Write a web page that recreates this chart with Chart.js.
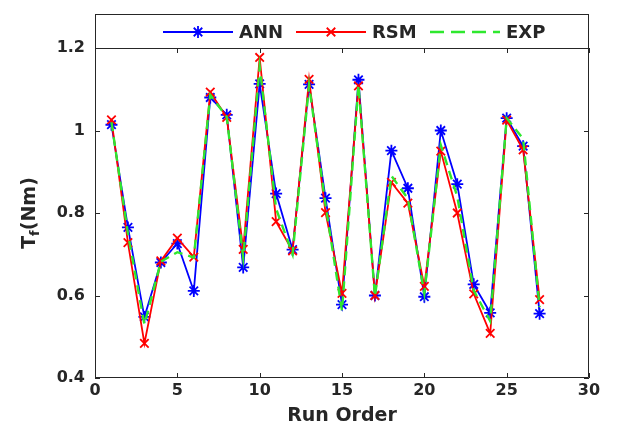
<!DOCTYPE html>
<html>
<head>
<meta charset="utf-8">
<script src="https://cdn.jsdelivr.net/npm/chart.js@4.4.1/dist/chart.umd.min.js"></script>
<style>
  html, body { margin: 0; padding: 0; background: #fff; }
  #wrap { width: 630px; height: 435px; }
</style>
</head>
<body>
<div id="wrap"><canvas id="chart" width="630" height="435"></canvas></div>
<script>
// run order 1..27
const runOrder = [1, 2, 3, 4, 5, 6, 7, 8, 9, 10, 11, 12, 13, 14, 15, 16, 17, 18, 19, 20, 21, 22, 23, 24, 25, 26, 27];

// friction torque Tf (Nm)
const annValues = [1.014, 0.765, 0.548, 0.680, 0.726, 0.611, 1.080, 1.038, 0.668, 1.113, 0.847, 0.711, 1.112, 0.836, 0.578,
                   1.123, 0.600, 0.951, 0.860, 0.597, 1.000, 0.870, 0.627, 0.558, 1.030, 0.962, 0.556];
const rsmValues = [1.026, 0.728, 0.484, 0.684, 0.739, 0.693, 1.093, 1.032, 0.712, 1.177, 0.779, 0.708, 1.124, 0.801, 0.605,
                   1.108, 0.600, 0.874, 0.824, 0.622, 0.950, 0.800, 0.604, 0.508, 1.025, 0.953, 0.590];
const expValues = [1.020, 0.750, 0.530, 0.682, 0.705, 0.692, 1.086, 1.033, 0.692, 1.155, 0.810, 0.700, 1.110, 0.820, 0.563,
                   1.110, 0.598, 0.890, 0.835, 0.605, 0.965, 0.840, 0.612, 0.538, 1.030, 0.980, 0.572];

const xTicks = [0, 5, 10, 15, 20, 25, 30];
const yTicks = [0.4, 0.6, 0.8, 1.0, 1.2];

const INK = '#262626';
const FONT = "'DejaVu Sans', 'Liberation Sans', Arial, sans-serif";
const BLUE = '#0000ff', RED = '#ff0000', GREEN = '#2ee82e';

const pts = vals => runOrder.map((r, i) => ({ x: r, y: vals[i] }));

// box, inward ticks, y label with subscript, and the legend strip on top
const framePlugin = {
  id: 'frame',
  afterDraw(chart) {
    const { ctx, chartArea: a, scales: { x, y } } = chart;
    ctx.save();
    ctx.strokeStyle = INK;
    ctx.lineWidth = 1;
    ctx.setLineDash([]);
    ctx.beginPath();
    ctx.rect(a.left + 0.5, a.top + 0.5, a.right - a.left - 1, a.bottom - a.top - 1);
    xTicks.forEach(v => {
      const px = Math.round(x.getPixelForValue(v)) + 0.5;
      ctx.moveTo(px, a.bottom); ctx.lineTo(px, a.bottom - 5);
      ctx.moveTo(px, a.top); ctx.lineTo(px, a.top + 5);
    });
    yTicks.forEach(v => {
      const py = Math.round(y.getPixelForValue(v)) + 0.5;
      ctx.moveTo(a.left, py); ctx.lineTo(a.left + 5, py);
      ctx.moveTo(a.right, py); ctx.lineTo(a.right - 5, py);
    });
    ctx.stroke();

    // y axis title: T_f(Nm)
    ctx.save();
    ctx.translate(30, (a.top + a.bottom) / 2);
    ctx.rotate(-Math.PI / 2);
    ctx.fillStyle = INK;
    ctx.textBaseline = 'middle';
    const big = 'bold 19px ' + FONT, small = 'bold 13px ' + FONT;
    ctx.font = big; const wT = ctx.measureText('T').width, wR = ctx.measureText('(Nm)').width;
    ctx.font = small; const wF = ctx.measureText('f').width;
    let sx = -(wT + wF + wR) / 2;
    ctx.font = big; ctx.fillText('T', sx, 0); sx += wT;
    ctx.font = small; ctx.fillText('f', sx, 6); sx += wF;
    ctx.font = big; ctx.fillText('(Nm)', sx, 0);
    ctx.restore();

    // legend box
    const top = 14, cy = 32;
    ctx.strokeStyle = INK;
    ctx.strokeRect(a.left + 0.5, top + 0.5, a.right - a.left - 1, a.top - top);
    const items = [
      { label: 'ANN', color: BLUE, x0: 163, style: 'star', dash: [], width: 1.8 },
      { label: 'RSM', color: RED, x0: 296, style: 'crossRot', dash: [], width: 1.8 },
      { label: 'EXP', color: GREEN, x0: 430, style: false, dash: [14, 7], width: 2.4 }
    ];
    items.forEach(it => {
      ctx.save();
      ctx.strokeStyle = it.color;
      ctx.lineWidth = it.width;
      ctx.setLineDash(it.dash);
      ctx.beginPath();
      ctx.moveTo(it.x0, cy); ctx.lineTo(it.x0 + 70, cy);
      ctx.stroke();
      ctx.setLineDash([]);
      if (it.style) {
        ctx.lineWidth = 1.8;
        Chart.helpers.drawPoint(ctx, { pointStyle: it.style, rotation: 0, radius: 6, borderWidth: 1.8 }, it.x0 + 35, cy);
      }
      ctx.fillStyle = INK;
      ctx.font = 'bold 18px ' + FONT;
      ctx.textBaseline = 'middle';
      ctx.fillText(it.label, it.x0 + 76, cy + 1);
      ctx.restore();
    });
    ctx.restore();
  }
};

new Chart(document.getElementById('chart'), {
  type: 'line',
  data: {
    datasets: [
      {
        label: 'ANN', data: pts(annValues), order: 3,
        borderColor: BLUE, backgroundColor: BLUE, borderWidth: 1.8,
        pointStyle: 'star', pointRadius: 6, pointBorderWidth: 1.8, pointBorderColor: BLUE
      },
      {
        label: 'RSM', data: pts(rsmValues), order: 2,
        borderColor: RED, backgroundColor: RED, borderWidth: 1.8,
        pointStyle: 'crossRot', pointRadius: 6, pointBorderWidth: 1.8, pointBorderColor: RED
      },
      {
        label: 'EXP', data: pts(expValues), order: 1,
        borderColor: GREEN, borderWidth: 2.4, borderDash: [9, 6],
        pointRadius: 0
      }
    ]
  },
  options: {
    responsive: false,
    animation: false,
    layout: { padding: { left: 0, right: 41, top: 48, bottom: 0 } },
    plugins: { legend: { display: false }, tooltip: { enabled: false } },
    elements: { line: { tension: 0 } },
    scales: {
      x: {
        type: 'linear', min: 0, max: 30,
        afterBuildTicks: s => { s.ticks = xTicks.map(v => ({ value: v })); },
        afterFit: s => { s.height = 57; },
        grid: { display: false, drawTicks: false },
        border: { display: false },
        ticks: { color: INK, font: { family: FONT, size: 16, weight: 'bold' }, padding: 3, maxRotation: 0 },
        title: {
          display: true, text: 'Run Order', color: INK,
          font: { family: FONT, size: 19, weight: 'bold' }, padding: { top: 0, bottom: 8 }
        }
      },
      y: {
        min: 0.4, max: 1.2,
        afterBuildTicks: s => { s.ticks = yTicks.map(v => ({ value: v })); },
        afterFit: s => { s.width = 95; },
        grid: { display: false, drawTicks: false },
        border: { display: false },
        ticks: {
          color: INK, font: { family: FONT, size: 16, weight: 'bold' }, padding: 10,
          callback: v => String(Number(v.toFixed(1)))
        }
      }
    }
  },
  plugins: [framePlugin]
});
</script>
</body>
</html>
